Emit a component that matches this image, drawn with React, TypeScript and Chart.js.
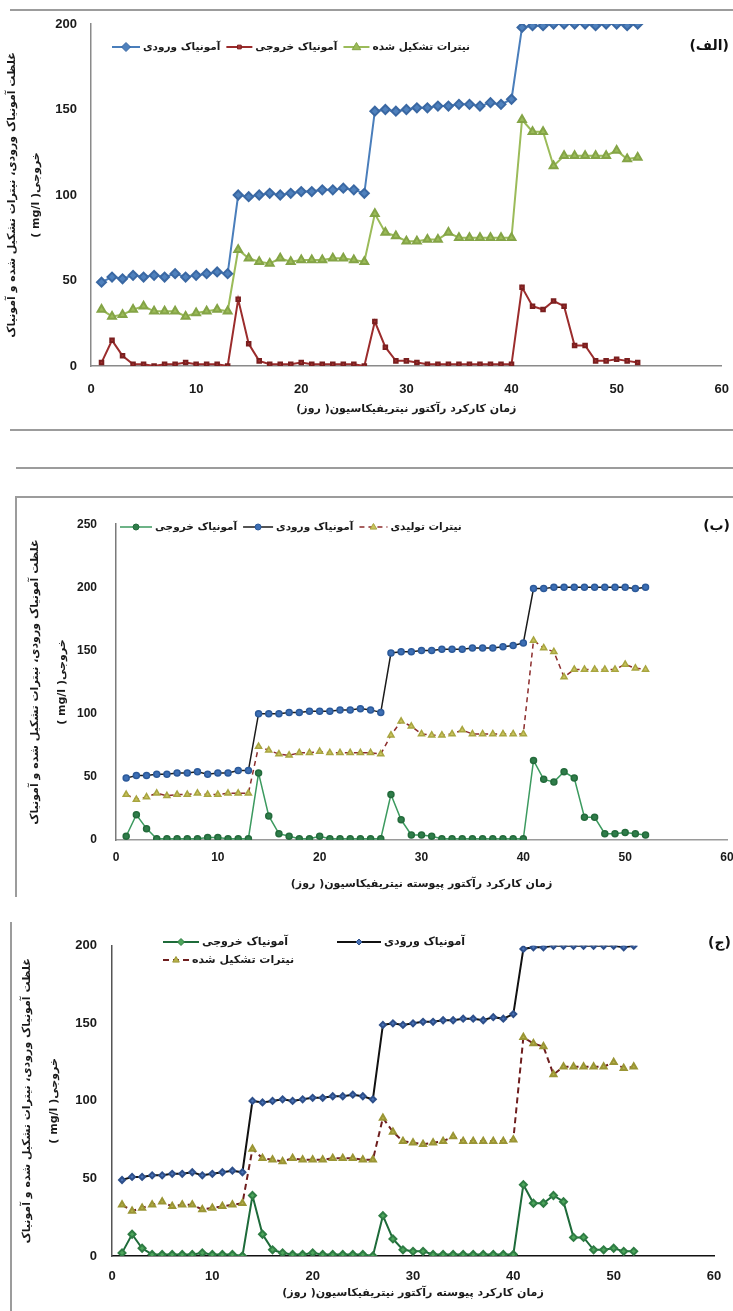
import React, { useEffect, useRef } from 'react';
import { Chart, registerables } from 'chart.js';

Chart.register(...registerables);

// ---------- data ----------
const days = [1, 2, 3, 4, 5, 6, 7, 8, 9, 10, 11, 12, 13, 14, 15, 16, 17, 18, 19, 20, 21, 22, 23, 24, 25, 26, 27, 28, 29, 30, 31, 32, 33, 34, 35, 36, 37, 38, 39, 40, 41, 42, 43, 44, 45, 46, 47, 48, 49, 50, 51, 52];

const xTicks = [0, 10, 20, 30, 40, 50, 60];
const yTicksA = [0, 50, 100, 150, 200];
const yTicksB = [0, 50, 100, 150, 200, 250];

const labelInlet = 'آمونیاک ورودی';
const labelOutlet = 'آمونیاک خروجی';
const labelNitrateFormed = 'نیترات تشکیل شده';
const labelNitrateProduced = 'نیترات تولیدی';

const yTitle = ['غلظت آمونیاک ورودی، نیترات تشکیل شده و آمونیاک', 'خروجی( mg/l )'];
const xTitleA = 'زمان کارکرد رآکتور نیتریفیکاسیون( روز)';
const xTitleB = 'زمان کارکرد رآکتور پیوسته نیتریفیکاسیون( روز)';
const xTitleC = 'زمان کارکرد پیوسته رآکتور نیتریفیکاسیون( روز)';

const panelLabels = ['(الف)', '(ب)', '(ج)'];

// panel (الف)
const inletA = [49, 52, 51, 53, 52, 53, 52, 54, 52, 53, 54, 55, 54, 100, 99, 100, 101, 100, 101, 102, 102, 103, 103, 104, 103, 101, 149, 150, 149, 150, 151, 151, 152, 152, 153, 153, 152, 154, 153, 156, 198, 199, 199, 200, 200, 200, 200, 199, 200, 200, 199, 200];
const outletA = [2, 15, 6, 1, 1, 0, 1, 1, 2, 1, 1, 1, 0, 39, 13, 3, 1, 1, 1, 2, 1, 1, 1, 1, 1, 0, 26, 11, 3, 3, 2, 1, 1, 1, 1, 1, 1, 1, 1, 1, 46, 35, 33, 38, 35, 12, 12, 3, 3, 4, 3, 2];
const nitrateA = [33, 29, 30, 33, 35, 32, 32, 32, 29, 31, 32, 33, 32, 68, 63, 61, 60, 63, 61, 62, 62, 62, 63, 63, 62, 61, 89, 78, 76, 73, 73, 74, 74, 78, 75, 75, 75, 75, 75, 75, 144, 137, 137, 117, 123, 123, 123, 123, 123, 126, 121, 122];

// panel (ب)
const inletB = [49, 51, 51, 52, 52, 53, 53, 54, 52, 53, 53, 55, 55, 100, 100, 100, 101, 101, 102, 102, 102, 103, 103, 104, 103, 101, 148, 149, 149, 150, 150, 151, 151, 151, 152, 152, 152, 153, 154, 156, 199, 199, 200, 200, 200, 200, 200, 200, 200, 200, 199, 200];
const outletB = [3, 20, 9, 1, 1, 1, 1, 1, 2, 2, 1, 1, 1, 53, 19, 5, 3, 1, 1, 3, 1, 1, 1, 1, 1, 1, 36, 16, 4, 4, 3, 1, 1, 1, 1, 1, 1, 1, 1, 1, 63, 48, 46, 54, 49, 18, 18, 5, 5, 6, 5, 4];
const nitrateB = [36, 32, 34, 37, 35, 36, 36, 37, 36, 36, 37, 37, 37, 74, 71, 68, 67, 69, 69, 70, 69, 69, 69, 69, 69, 68, 83, 94, 90, 84, 83, 83, 84, 87, 84, 84, 84, 84, 84, 84, 158, 152, 149, 129, 135, 135, 135, 135, 135, 139, 136, 135];

// panel (ج)
const inletC = [49, 51, 51, 52, 52, 53, 53, 54, 52, 53, 54, 55, 54, 100, 99, 100, 101, 100, 101, 102, 102, 103, 103, 104, 103, 101, 149, 150, 149, 150, 151, 151, 152, 152, 153, 153, 152, 154, 153, 156, 198, 199, 199, 200, 200, 200, 200, 200, 200, 200, 199, 200];
const outletC = [2, 14, 5, 1, 1, 1, 1, 1, 2, 1, 1, 1, 0, 39, 14, 4, 2, 1, 1, 2, 1, 1, 1, 1, 1, 0, 26, 11, 4, 3, 3, 1, 1, 1, 1, 1, 1, 1, 1, 1, 46, 34, 34, 39, 35, 12, 12, 4, 4, 5, 3, 3];
const nitrateC = [33, 29, 31, 33, 35, 32, 33, 33, 30, 31, 32, 33, 34, 69, 63, 62, 61, 63, 62, 62, 62, 63, 63, 63, 62, 62, 89, 80, 74, 73, 72, 73, 74, 77, 74, 74, 74, 74, 74, 75, 141, 137, 135, 117, 122, 122, 122, 122, 122, 125, 121, 122];

// ---------- helpers ----------
const pts = (vals: number[]) => days.map((d, i) => ({ x: d, y: vals[i] }));

const FA = '"DejaVu Sans", sans-serif';
const FN = '"Liberation Sans", Arial, sans-serif';

function drawMarker(ctx: CanvasRenderingContext2D, style: string, x: number, y: number, r: number, fill: string, stroke: string) {
  ctx.save();
  ctx.fillStyle = fill;
  ctx.strokeStyle = stroke;
  ctx.lineWidth = 1;
  ctx.setLineDash([]);
  ctx.beginPath();
  if (style === 'rectRot') {
    ctx.moveTo(x, y - r); ctx.lineTo(x + r, y); ctx.lineTo(x, y + r); ctx.lineTo(x - r, y); ctx.closePath();
  } else if (style === 'rect') {
    ctx.rect(x - r * 0.75, y - r * 0.75, r * 1.5, r * 1.5);
  } else if (style === 'triangle') {
    ctx.moveTo(x, y - r); ctx.lineTo(x + r * 0.95, y + r * 0.6); ctx.lineTo(x - r * 0.95, y + r * 0.6); ctx.closePath();
  } else {
    ctx.arc(x, y, r, 0, Math.PI * 2);
  }
  ctx.fill();
  ctx.stroke();
  ctx.restore();
}

// Excel-style legend drawn inside the plot: line + marker, then the label.
const excelLegend = {
  id: 'excelLegend',
  afterDraw(chart: any, _args: any, opts: any) {
    const ctx: CanvasRenderingContext2D = chart.ctx;
    if (!opts || !opts.items) return;
    ctx.save();
    ctx.font = opts.font;
    let cursor = 0;
    for (const it of opts.items) {
      const ds = chart.data.datasets[it.index];
      const len = it.len || 28;
      const x = it.x !== undefined ? it.x : cursor + (opts.gap || 6);
      ctx.strokeStyle = ds.borderColor;
      ctx.lineWidth = ds.borderWidth;
      ctx.setLineDash(ds.borderDash || []);
      ctx.beginPath();
      ctx.moveTo(x, it.y);
      ctx.lineTo(x + len, it.y);
      ctx.stroke();
      drawMarker(ctx, ds.pointStyle, x + len / 2, it.y, ds.pointRadius, ds.pointBackgroundColor, ds.pointBorderColor);
      ctx.setLineDash([]);
      ctx.font = opts.font;
      ctx.fillStyle = opts.color || '#222';
      ctx.textBaseline = 'middle';
      ctx.textAlign = 'left';
      (ctx as any).direction = 'ltr';
      const tx = x + len + 3;
      ctx.fillText(ds.label, tx, it.y);
      cursor = tx + ctx.measureText(ds.label).width;
    }
    ctx.restore();
  },
};

function makeScales(p: any) {
  return {
    x: {
      type: 'linear',
      min: 0,
      max: 60,
      afterBuildTicks: (s: any) => { s.ticks = xTicks.map((v) => ({ value: v })); },
      afterFit: (s: any) => { s.height = p.xHeight; },
      grid: { display: false, drawTicks: false },
      border: { display: true, color: p.xBorder, width: p.xBorderWidth },
      ticks: { padding: p.xTickPad, color: '#1a1a1a', font: { family: FN, size: p.tickSize, weight: 'bold' } },
      title: {
        display: true,
        text: p.xTitle,
        color: '#1a1a1a',
        font: { family: FA, size: 11, weight: 'bold', lineHeight: 1.2 },
        padding: { top: 0, bottom: p.xTitlePad },
      },
    },
    y: {
      type: 'linear',
      min: 0,
      max: p.yMax,
      afterBuildTicks: (s: any) => { s.ticks = p.yTicks.map((v: number) => ({ value: v })); },
      afterFit: (s: any) => { s.width = p.yWidth; },
      grid: { display: false, drawTicks: false },
      border: { display: true, color: p.yBorder, width: 1.5 },
      ticks: { padding: p.yTickPad, color: '#1a1a1a', font: { family: FN, size: p.tickSize, weight: 'bold' } },
      title: {
        display: true,
        text: yTitle,
        color: '#1a1a1a',
        font: { family: FA, size: 11, weight: 'bold', lineHeight: p.yTitleLH },
        padding: { top: p.yTitlePad, bottom: 0 },
      },
    },
  };
}

function baseOptions(p: any, legendItems: any[], legendFont: string) {
  return {
    responsive: false,
    maintainAspectRatio: false,
    animation: false,
    devicePixelRatio: 1,
    layout: { padding: { left: 0, top: p.padTop, right: p.padRight, bottom: 0 } },
    plugins: {
      legend: { display: false },
      tooltip: { enabled: false },
      excelLegend: { items: legendItems, font: legendFont, color: '#1a1a1a', gap: 6 },
    },
    scales: makeScales(p),
  };
}

// ---------- configs ----------
const configA = {
  type: 'line',
  data: {
    datasets: [
      { label: labelInlet, data: pts(inletA), borderColor: '#4a7ebb', borderWidth: 2, pointStyle: 'rectRot', pointRadius: 4.5, pointBackgroundColor: '#4f81bd', pointBorderColor: '#3a68a3', tension: 0 },
      { label: labelOutlet, data: pts(outletA), borderColor: '#9b2c2c', borderWidth: 2, pointStyle: 'rect', pointRadius: 2.5, pointBackgroundColor: '#a83232', pointBorderColor: '#7a1f1f', tension: 0 },
      { label: labelNitrateFormed, data: pts(nitrateA), borderColor: '#9bbb59', borderWidth: 2, pointStyle: 'triangle', pointRadius: 4.5, pointBackgroundColor: '#9bbb59', pointBorderColor: '#84a446', tension: 0 },
    ],
  },
  options: baseOptions(
    { xHeight: 64, xBorder: '#8a8a8a', xBorderWidth: 1.5, xTickPad: 16, tickSize: 13, xTitle: xTitleA, xTitlePad: 14, yMax: 200, yTicks: yTicksA, yWidth: 91, yBorder: '#8a8a8a', yTickPad: 14, yTitleLH: 2.2, yTitlePad: 0, padTop: 24, padRight: 18 },
    [
      { index: 0, x: 112, y: 47, len: 28 },
      { index: 1, y: 47, len: 26 },
      { index: 2, y: 47, len: 26 },
    ],
    'bold 10.5px ' + FA,
  ),
  plugins: [excelLegend],
};

const configB = {
  type: 'line',
  data: {
    datasets: [
      { label: labelOutlet, data: pts(outletB), borderColor: '#3c9a5f', borderWidth: 1.5, pointStyle: 'circle', pointRadius: 3, pointBackgroundColor: '#2f7d4a', pointBorderColor: '#246b3c', tension: 0 },
      { label: labelInlet, data: pts(inletB), borderColor: '#1b1b1b', borderWidth: 1.5, pointStyle: 'circle', pointRadius: 3, pointBackgroundColor: '#3d6fb5', pointBorderColor: '#2c5a9a', tension: 0 },
      { label: labelNitrateProduced, data: pts(nitrateB), borderColor: '#8c2d2d', borderWidth: 1.5, borderDash: [5, 4], pointStyle: 'triangle', pointRadius: 3.5, pointBackgroundColor: '#c9c35c', pointBorderColor: '#a8a540', tension: 0 },
    ],
  },
  options: baseOptions(
    { xHeight: 57, xBorder: '#9a9a9a', xBorderWidth: 1.5, xTickPad: 10, tickSize: 12, xTitle: xTitleB, xTitlePad: 6, yMax: 250, yTicks: yTicksB, yWidth: 100, yBorder: '#7a7a7a', yTickPad: 19, yTitleLH: 2.5, yTitlePad: 5, padTop: 15, padRight: 18 },
    [
      { index: 0, x: 104, y: 29, len: 32 },
      { index: 1, y: 29, len: 30 },
      { index: 2, y: 29, len: 28 },
    ],
    'bold 10.5px ' + FA,
  ),
  plugins: [excelLegend],
};

const configC = {
  type: 'line',
  data: {
    datasets: [
      { label: labelOutlet, data: pts(outletC), borderColor: '#1e6b3a', borderWidth: 2, pointStyle: 'rectRot', pointRadius: 3.5, pointBackgroundColor: '#4ea65c', pointBorderColor: '#2f7d44', tension: 0 },
      { label: labelInlet, data: pts(inletC), borderColor: '#111111', borderWidth: 2, pointStyle: 'rectRot', pointRadius: 3, pointBackgroundColor: '#4b74b8', pointBorderColor: '#2d4f8a', tension: 0 },
      { label: labelNitrateFormed, data: pts(nitrateC), borderColor: '#6e1e1e', borderWidth: 2, borderDash: [6, 4], pointStyle: 'triangle', pointRadius: 3.5, pointBackgroundColor: '#b8b24a', pointBorderColor: '#9a9535', tension: 0 },
    ],
  },
  options: baseOptions(
    { xHeight: 55, xBorder: '#111111', xBorderWidth: 1.5, xTickPad: 13, tickSize: 13, xTitle: xTitleC, xTitlePad: 11, yMax: 200, yTicks: yTicksA, yWidth: 101, yBorder: '#555555', yTickPad: 15, yTitleLH: 2.5, yTitlePad: 2, padTop: 14, padRight: 31 },
    [
      { index: 0, x: 152, y: 19, len: 36 },
      { index: 1, x: 326, y: 19, len: 44 },
      { index: 2, x: 152, y: 37, len: 26 },
    ],
    'bold 11px ' + FA,
  ),
  plugins: [excelLegend],
};

// ---------- components ----------
function ChartCanvas({ config, left, top, width, height }: any) {
  const ref = useRef<HTMLCanvasElement>(null);
  useEffect(() => {
    const chart = new Chart(ref.current as HTMLCanvasElement, config as any);
    return () => chart.destroy();
  }, [config]);
  return (
    <canvas
      ref={ref}
      dir="rtl"
      width={width}
      height={height}
      style={{ position: 'absolute', left, top, width, height }}
    />
  );
}

const line = (left: number, top: number, width: number, height: number) => (
  <div style={{ position: 'absolute', left, top, width, height, background: '#9c9c9c' }} />
);

const panelLabel = (text: string, right: number, top: number) => (
  <div
    dir="rtl"
    style={{ position: 'absolute', right, top, font: 'bold 14px "DejaVu Sans", sans-serif', color: '#111', whiteSpace: 'nowrap' }}
  >
    {text}
  </div>
);

export default function App() {
  return (
    <div style={{ position: 'absolute', left: 0, top: 0, width: 733, height: 1311, overflow: 'hidden', background: '#fff' }}>
      <ChartCanvas config={configA} left={0} top={0} width={745} height={430} />
      <ChartCanvas config={configB} left={16} top={498} width={729} height={399} />
      <ChartCanvas config={configC} left={11} top={923} width={734} height={388} />
      {line(10, 9, 723, 2)}
      {line(10, 429, 723, 2)}
      {line(16, 467, 717, 2)}
      {line(16, 496, 717, 2)}
      {line(15, 496, 2, 401)}
      {line(10, 922, 2, 389)}
      {panelLabel(panelLabels[0], 4, 37)}
      {panelLabel(panelLabels[1], 3, 517)}
      {panelLabel(panelLabels[2], 2, 934)}
    </div>
  );
}
